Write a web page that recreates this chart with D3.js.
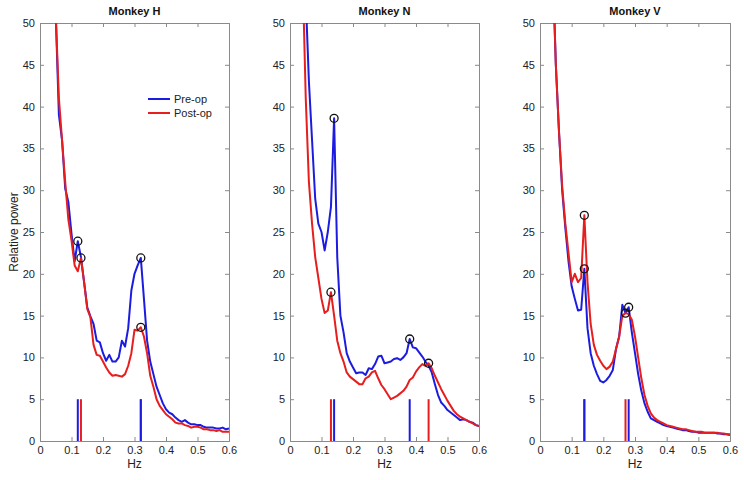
<!DOCTYPE html>
<html><head><meta charset="utf-8">
<script src="https://cdn.jsdelivr.net/npm/d3@7"></script>
<style>body{margin:0;background:#fff}svg{display:block;font-family:"Liberation Sans",Arial,sans-serif}</style>
</head><body><svg id="c" width="744" height="480"></svg>
<script>
const freqs = [0.04,0.05,0.06,0.07,0.08,0.09,0.10,0.11,0.12,0.13,0.14,0.15,0.16,0.17,0.18,0.19,0.20,0.21,0.22,0.23,0.24,0.25,0.26,0.27,0.28,0.29,0.30,0.31,0.32,0.33,0.34,0.35,0.36,0.37,0.38,0.39,0.40,0.41,0.42,0.43,0.44,0.45,0.46,0.47,0.48,0.49,0.50,0.51,0.52,0.53,0.54,0.55,0.56,0.57,0.58,0.59,0.60];
const titles = ["Monkey H","Monkey N","Monkey V"];
const seriesNames = ["Pre-op","Post-op"];
const xTicks = [0,0.1,0.2,0.3,0.4,0.5,0.6];
const yTicks = [0,5,10,15,20,25,30,35,40,45,50];

const preH  = [62,51,39,36,30.2,28.6,24.8,21.5,23.9,22,19,16,14.9,14,12,11.8,10.5,9.6,10.3,9.5,9.5,10,12,11.3,13.5,18,20,21,21.9,17,12,9.5,8,6.5,5.5,4.5,3.8,3.4,3.2,2.8,2.5,2.3,2.5,2.2,2,2,1.9,1.9,1.7,1.6,1.6,1.6,1.5,1.5,1.6,1.4,1.5];
const postH = [62,51,41,36,31,26.5,24,21,20.3,21.9,19,15.8,14.8,11.5,10.3,10.2,9.5,8.8,8.2,7.8,7.9,7.8,7.7,8,9,10.5,13.3,13.2,13.6,12.5,10.5,7.8,6.5,5,4.2,3.7,3.2,2.9,2.6,2.2,2.1,2.1,1.9,1.8,1.6,1.7,1.7,1.6,1.4,1.4,1.3,1.3,1.2,1.3,1.1,1.1,1.1];
const preN  = [65,53,43,36,29,26,25,22.8,25,28,38.6,22,15,13,10.5,9.5,8.8,8.1,8.2,8.2,7.9,8.7,8.6,9.2,10.1,10.2,9.3,9.4,9.5,9.8,9.9,9.7,10,10.5,12.2,11.2,11.1,10.6,10.1,9.5,9,8.2,6.8,5.5,4.6,4.2,3.7,3.4,3.1,2.8,2.5,2.6,2.5,2.3,2.2,1.9,1.8];
const postN = [56,41,31,26,22,19.5,17,15.3,15.6,17.8,15,12,10.5,9.5,8.2,7.7,7.4,7.1,6.8,6.8,7.5,7.7,8.2,8.4,7.5,6.7,6.2,5.6,5,5.2,5.4,5.7,6,6.5,7.3,7.6,8.3,8.8,9.2,9,9.3,8.7,7.8,7,6.2,5.5,4.8,4.2,3.6,3.2,2.9,2.7,2.5,2.3,2.1,1.9,1.8];
const preV  = [57,45,37,30,25.5,21.5,18.5,17,15.6,15.7,20.6,13.5,10.5,9,8,7.2,7,7.3,7.8,8.5,11,12.5,16.3,15.3,16,13,10.5,8,6,4.5,3.5,2.7,2.5,2.3,2.1,1.9,1.8,1.7,1.6,1.5,1.4,1.3,1.3,1.2,1.1,1.1,1,1,1,1,1,1,0.9,0.9,0.8,0.8,0.7];
const postV = [57,45,37,30.5,26,22.5,19,20,19,19.5,27,19,14,11.5,10.3,9.6,9,8.6,8.9,9.5,11,12.5,15,15.3,15.2,14.5,12.5,10,7.5,5.5,4.2,3.3,2.8,2.5,2.3,2.1,1.9,1.8,1.7,1.6,1.5,1.4,1.4,1.3,1.2,1.1,1.1,1.1,1,1,1,1,1,0.9,0.9,0.8,0.8];

// peak frequencies (circles + vertical markers)
const peaksPreH = [0.12,0.32], peaksPostH = [0.13,0.32];
const peaksPreN = [0.14,0.38], peaksPostN = [0.13,0.44];
const peaksPreV = [0.14,0.28], peaksPostV = [0.14,0.27];

const panels = [
  {pre:preH, post:postH, pk:peaksPreH, pkp:peaksPostH, x0:40, x1:229},
  {pre:preN, post:postN, pk:peaksPreN, pkp:peaksPostN, x0:290, x1:479},
  {pre:preV, post:postV, pk:peaksPreV, pkp:peaksPostV, x0:540, x1:730}
];
const BLUE = "#1c1ce0", RED = "#e61e1e";
const plotTop = 23, plotBottom = 441;
const svg = d3.select("#c");

panels.forEach((p,i)=>{
  const x = d3.scaleLinear().domain([0,0.6]).range([p.x0,p.x1]);
  const y = d3.scaleLinear().domain([0,50]).range([plotBottom,plotTop]);
  const g = svg.append("g");
  const cid = "clip"+i;
  g.append("clipPath").attr("id",cid).append("rect")
    .attr("x",p.x0).attr("y",plotTop).attr("width",p.x1-p.x0).attr("height",plotBottom-plotTop);

  const axL = g.append("g").attr("transform",`translate(${p.x0},0)`).call(d3.axisLeft(y).tickValues(yTicks).tickSize(-4).tickPadding(5).tickFormat(d3.format("d")));
  const axR = g.append("g").attr("transform",`translate(${p.x1},0)`).call(d3.axisRight(y).tickValues(yTicks).tickSize(-4).tickFormat(""));
  const axB = g.append("g").attr("transform",`translate(0,${plotBottom})`).call(d3.axisBottom(x).tickValues(xTicks).tickSize(-4).tickPadding(6).tickFormat(d=>d===0?"0":d3.format(".1f")(d)));
  const axT = g.append("g").attr("transform",`translate(0,${plotTop})`).call(d3.axisTop(x).tickValues(xTicks).tickSize(-4).tickFormat(""));
  [axL,axR,axB,axT].forEach(a=>{
    a.select(".domain").attr("stroke","#8a8a8a");
    a.selectAll(".tick line").attr("stroke","#8a8a8a");
    a.selectAll("text").attr("fill","#222").style("font-size","11px").style("font-family","Liberation Sans, Arial, sans-serif");
  });
  axB.selectAll("text").attr("dy","0.6em");

  const lg = g.append("g").attr("clip-path",`url(#${cid})`);
  const line = d3.line().x((d,j)=>x(freqs[j])).y(d=>y(d));

  const drawMarkers = (vals,col)=>{
    lg.selectAll(null).data(vals).enter().append("line")
      .attr("x1",d=>x(d)).attr("x2",d=>x(d)).attr("y1",y(0)).attr("y2",y(5))
      .attr("stroke",col).attr("stroke-width",2);
  };
  drawMarkers(p.pkp, RED);
  drawMarkers(p.pk, BLUE);

  lg.append("path").datum(p.pre).attr("d",line).attr("fill","none").attr("stroke",BLUE).attr("stroke-width",2).attr("stroke-linejoin","round");
  lg.append("path").datum(p.post).attr("d",line).attr("fill","none").attr("stroke",RED).attr("stroke-width",2).attr("stroke-linejoin","round");

  const valAt = (arr,f)=>arr[freqs.findIndex(v=>Math.abs(v-f)<1e-6)];
  const circ = [];
  p.pk.forEach(f=>circ.push([f,valAt(p.pre,f)]));
  p.pkp.forEach(f=>circ.push([f,valAt(p.post,f)]));
  lg.selectAll(null).data(circ).enter().append("circle")
    .attr("cx",d=>x(d[0])).attr("cy",d=>y(d[1])).attr("r",4)
    .attr("fill","none").attr("stroke","#111").attr("stroke-width",1.3);

  g.append("text").attr("x",(p.x0+p.x1)/2).attr("y",15).attr("text-anchor","middle")
    .style("font-weight","bold").style("font-size","11px").attr("fill","#111").text(titles[i]);
  g.append("text").attr("x",(p.x0+p.x1)/2).attr("y",468).attr("text-anchor","middle")
    .style("font-size","12px").attr("fill","#222").text("Hz");

  if(i===0){
    svg.append("text").attr("transform","translate(18,232) rotate(-90)").attr("text-anchor","middle")
      .style("font-size","12px").attr("fill","#222").text("Relative power");
    const cols=[BLUE,RED];
    seriesNames.forEach((s,k)=>{
      const yy = 99 + k*14;
      g.append("line").attr("x1",148).attr("x2",170).attr("y1",yy).attr("y2",yy).attr("stroke",cols[k]).attr("stroke-width",2);
      g.append("text").attr("x",174).attr("y",yy+4).style("font-size","11px").attr("fill","#222").text(s);
    });
  }
});
</script></body></html>
